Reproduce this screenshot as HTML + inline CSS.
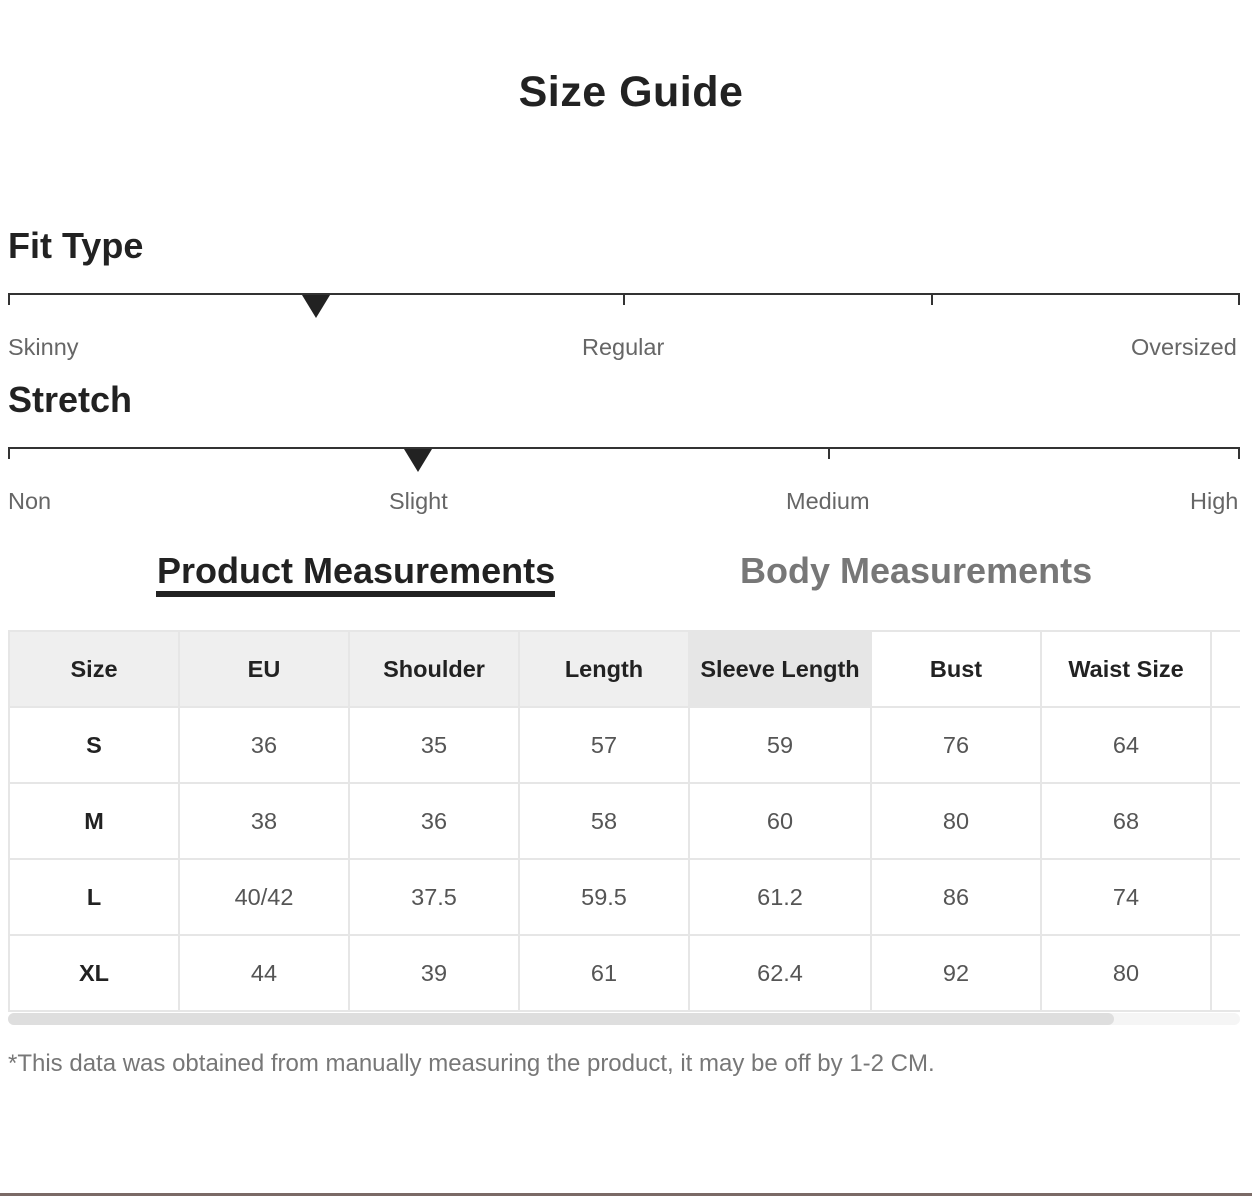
<!DOCTYPE html>
<html><head><meta charset="utf-8"><style>
body{margin:0;width:1252px;height:1196px;background:#fff;position:relative;overflow:hidden;font-family:"Liberation Sans",Arial,sans-serif}
.a{position:absolute;white-space:nowrap}
.h{font-weight:bold;color:#222}
.lbl{font-size:23.5px;color:#666;top:334px}
.line{position:absolute;height:2px;background:#333;left:8px;width:1232px}
.tick{position:absolute;width:2px;height:12px;background:#333}
.tri{position:absolute;width:0;height:0;border-left:14px solid transparent;border-right:14px solid transparent;border-top:23px solid #222}
.wrap{position:absolute;left:8px;top:630px;width:1232px;height:382px;overflow:hidden}
table{position:absolute;left:0;top:0;border-collapse:collapse;font-size:23.5px;width:1280px;table-layout:fixed}
td{border:2px solid #e6e6e6;height:74px;text-align:center;color:#555;padding:0}
tr.hd td{background:#efefef;color:#222;font-weight:bold}
td.b{color:#222;font-weight:bold}
</style></head><body>
<div class="a h" style="left:0;width:1262px;text-align:center;top:68px;font-size:43px;font-weight:900;letter-spacing:0.5px">Size Guide</div>

<div class="a h" style="left:8px;top:225px;font-size:36px">Fit Type</div>
<div class="line" style="top:293px"></div>
<div class="tick" style="left:8px;top:293px"></div>
<div class="tick" style="left:623px;top:293px"></div>
<div class="tick" style="left:931px;top:293px"></div>
<div class="tick" style="left:1238px;top:293px"></div>
<div class="tri" style="left:302px;top:295px"></div>
<div class="a lbl" style="left:8px">Skinny</div>
<div class="a lbl" style="left:582px">Regular</div>
<div class="a lbl" style="left:1131px">Oversized</div>

<div class="a h" style="left:8px;top:379px;font-size:36px">Stretch</div>
<div class="line" style="top:447px"></div>
<div class="tick" style="left:8px;top:447px"></div>
<div class="tick" style="left:828px;top:447px"></div>
<div class="tick" style="left:1238px;top:447px"></div>
<div class="tri" style="left:404px;top:449px"></div>
<div class="a lbl" style="left:8px;top:488px">Non</div>
<div class="a lbl" style="left:389px;top:488px">Slight</div>
<div class="a lbl" style="left:786px;top:488px">Medium</div>
<div class="a lbl" style="left:1190px;top:488px">High</div>

<div class="a h" style="left:157px;top:550px;font-size:36px">Product Measurements</div>
<div class="a" style="left:156px;top:591px;width:399px;height:6px;background:#222"></div>
<div class="a" style="left:740px;top:550px;font-size:36px;font-weight:bold;color:#777">Body Measurements</div>

<div class="wrap"><table>
<colgroup><col style="width:170px"><col style="width:170px"><col style="width:170px"><col style="width:170px"><col style="width:182px"><col style="width:170px"><col style="width:170px"><col style="width:78px"></colgroup>
<tr class="hd"><td>Size</td><td>EU</td><td>Shoulder</td><td>Length</td><td style="background:#e6e6e6">Sleeve Length</td><td style="background:#fff">Bust</td><td style="background:#fff">Waist Size</td><td style="background:#fff"></td></tr>
<tr><td class="b">S</td><td>36</td><td>35</td><td>57</td><td>59</td><td>76</td><td>64</td><td></td></tr>
<tr><td class="b">M</td><td>38</td><td>36</td><td>58</td><td>60</td><td>80</td><td>68</td><td></td></tr>
<tr><td class="b">L</td><td>40/42</td><td>37.5</td><td>59.5</td><td>61.2</td><td>86</td><td>74</td><td></td></tr>
<tr><td class="b">XL</td><td>44</td><td>39</td><td>61</td><td>62.4</td><td>92</td><td>80</td><td></td></tr>
</table></div>
<div class="a" style="left:8px;top:1013px;width:1232px;height:12px;background:#f5f5f5;border-radius:6px"></div>
<div class="a" style="left:8px;top:1013px;width:1106px;height:12px;background:#dedede;border-radius:6px"></div>
<div class="a" style="left:8px;top:1050px;font-size:24px;color:#777">*This data was obtained from manually measuring the product, it may be off by 1-2 CM.</div>
<div class="a" style="left:0;top:1193px;width:1252px;height:3px;background:#7a6a66"></div>
</body></html>
